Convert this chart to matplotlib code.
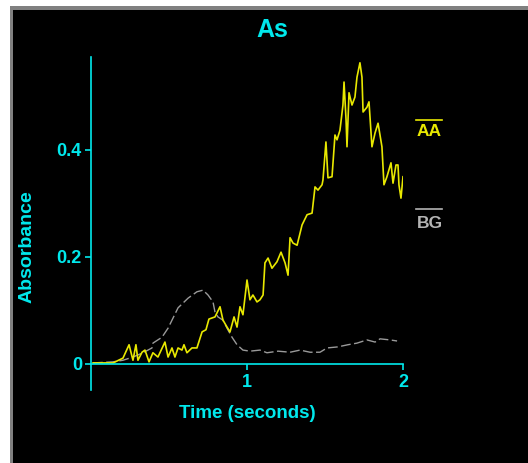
import matplotlib
matplotlib.use("Agg")
import matplotlib.pyplot as plt
from matplotlib.patches import Rectangle
from matplotlib.lines import Line2D

# AA signal (time in s, absorbance)
aa_time = [0.013, 0.141, 0.205, 0.244, 0.269, 0.288, 0.301, 0.327, 0.346, 0.372,
           0.397, 0.429, 0.474, 0.494, 0.519, 0.538, 0.558, 0.583, 0.596, 0.615,
           0.647, 0.679, 0.712, 0.737, 0.756, 0.795, 0.827, 0.846, 0.872, 0.891,
           0.917, 0.936, 0.955, 0.974, 1.000, 1.019, 1.038, 1.064, 1.083, 1.103,
           1.115, 1.135, 1.160, 1.192, 1.218, 1.244, 1.263, 1.276, 1.295, 1.321,
           1.353, 1.385, 1.417, 1.436, 1.455, 1.481, 1.487, 1.506, 1.519, 1.545,
           1.564, 1.577, 1.596, 1.615, 1.622, 1.635, 1.641, 1.654, 1.673, 1.692,
           1.705, 1.724, 1.737, 1.744, 1.769, 1.782, 1.801, 1.821, 1.840, 1.865,
           1.878, 1.897, 1.923, 1.936, 1.955, 1.968, 1.974, 1.987, 2.000]
aa_abs = [0.002, 0.002, 0.011, 0.036, 0.007, 0.036, 0.007, 0.022, 0.026, 0.004,
          0.021, 0.013, 0.041, 0.013, 0.030, 0.013, 0.030, 0.026, 0.036, 0.021,
          0.030, 0.030, 0.060, 0.064, 0.084, 0.088, 0.107, 0.082, 0.069, 0.060,
          0.088, 0.069, 0.107, 0.092, 0.157, 0.120, 0.129, 0.116, 0.120, 0.129,
          0.189, 0.198, 0.179, 0.191, 0.209, 0.189, 0.166, 0.236, 0.226, 0.222,
          0.260, 0.279, 0.282, 0.331, 0.325, 0.335, 0.344, 0.415, 0.348, 0.350,
          0.428, 0.419, 0.437, 0.484, 0.527, 0.456, 0.406, 0.507, 0.484, 0.499,
          0.536, 0.563, 0.536, 0.471, 0.480, 0.490, 0.406, 0.432, 0.450, 0.406,
          0.335, 0.350, 0.376, 0.338, 0.372, 0.372, 0.335, 0.310, 0.350]

# BG signal
bg_time = [0.013, 0.141, 0.205, 0.269, 0.333, 0.391, 0.397, 0.455, 0.494, 0.526,
           0.558, 0.590, 0.622, 0.679, 0.718, 0.750, 0.782, 0.795, 0.814, 0.846,
           0.872, 0.904, 0.936, 0.974, 1.019, 1.083, 1.128, 1.199, 1.276, 1.340,
           1.404, 1.468, 1.513, 1.583, 1.647, 1.705, 1.769, 1.821, 1.853, 1.917,
           1.962]
bg_abs = [0.002, 0.004, 0.007, 0.013, 0.021, 0.030, 0.039, 0.050, 0.067, 0.086,
          0.105, 0.114, 0.123, 0.135, 0.138, 0.129, 0.116, 0.097, 0.088, 0.082,
          0.067, 0.050, 0.036, 0.026, 0.024, 0.026, 0.021, 0.024, 0.022, 0.026,
          0.022, 0.022, 0.030, 0.032, 0.036, 0.039, 0.045, 0.041, 0.047, 0.045,
          0.043]

series_names = ["AA", "BG"]
x_ticks = [1, 2]
y_ticks = [0, 0.2, 0.4]
y_tick_labels = ["0", "0.2", "0.4"]

CYAN = "#00e8ec"
YELLOW = "#e8e800"
GRAY = "#b4b4b4"
W, H = 528, 463

plt.rcParams['font.family'] = ['Liberation Sans', 'DejaVu Sans']
plt.rcParams['font.weight'] = 'bold'

fig = plt.figure(figsize=(W / 100, H / 100), dpi=100, facecolor="white")

# gray frame + black panel
fig.patches.append(Rectangle((10 / W, 0), 1, 1 - 6 / H, transform=fig.transFigure,
                             facecolor="#808080", edgecolor="none", zorder=-2))
fig.patches.append(Rectangle((13 / W, 0), 1, 1 - 10 / H, transform=fig.transFigure,
                             facecolor="black", edgecolor="none", zorder=-1))

ax = fig.add_axes([91 / W, 1 - 390 / H, 312 / W, 333 / H])
ax.set_facecolor("none")

ax.plot(bg_time, bg_abs, color="#9a9a9a", lw=1.0, dashes=(7, 2.5))
ax.plot(aa_time, aa_abs, color=YELLOW, lw=1.2)

ax.set_xlim(0, 2)
ax.set_ylim(-0.0486, 0.5738)

for s in ["top", "right"]:
    ax.spines[s].set_visible(False)
ax.spines["bottom"].set_position(("data", 0))
for s in ["left", "bottom"]:
    ax.spines[s].set_color(CYAN)
    ax.spines[s].set_linewidth(1.2)

ax.set_xticks(x_ticks)
ax.set_xticklabels([str(t) for t in x_ticks])
ax.set_yticks(y_ticks)
ax.set_yticklabels(y_tick_labels)
ax.tick_params(colors=CYAN, labelsize=13, width=1.2, length=4, pad=2.5)
ax.tick_params(axis="x", pad=3.5)
for lab in ax.get_xticklabels() + ax.get_yticklabels():
    lab.set_fontweight("bold")

fig.text(272 / W, 1 - 30 / H, "As", color=CYAN, fontsize=18, fontweight="bold",
         ha="center", va="center")
fig.text(27 / W, 1 - 247 / H, "Absorbance", color=CYAN, fontsize=14, fontweight="bold",
         rotation=90, ha="center", va="center")
fig.text(247 / W, 1 - 414 / H, "Time (seconds)", color=CYAN, fontsize=13.5,
         fontweight="bold", ha="center", va="center")

# legend: overline + label
for name, col, ly, ty in [(series_names[0], YELLOW, 120, 132),
                          (series_names[1], GRAY, 209, 224)]:
    fig.add_artist(Line2D([416 / W, 442 / W], [1 - ly / H, 1 - ly / H],
                          transform=fig.transFigure, color=col, lw=1.2))
    fig.text(417 / W, 1 - ty / H, name, color=col, fontsize=12.5, fontweight="bold",
             ha="left", va="center")

fig.savefig("out.png", dpi=100, facecolor=fig.get_facecolor())
